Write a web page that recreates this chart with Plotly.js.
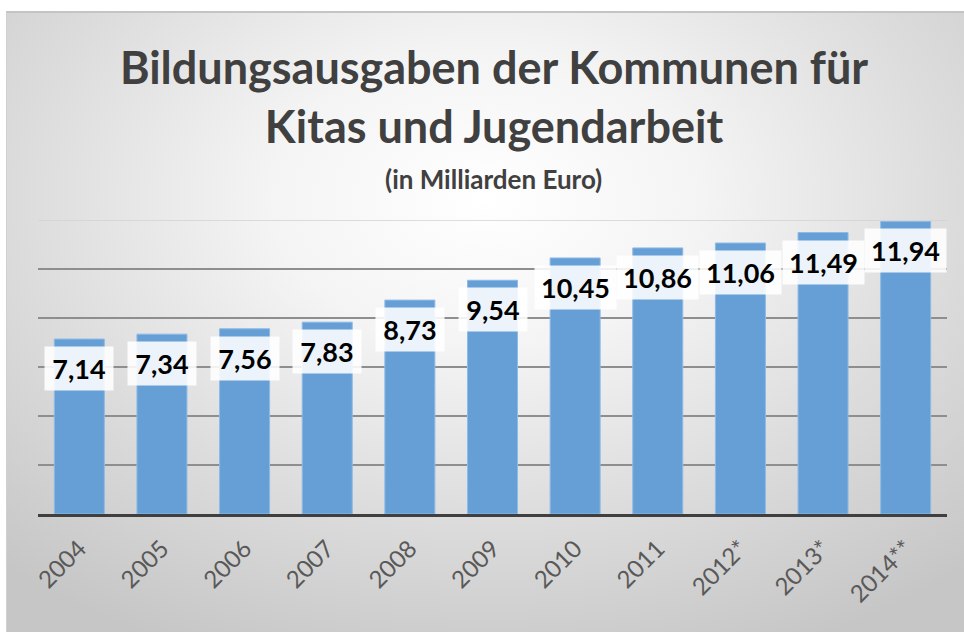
<!DOCTYPE html>
<html>
<head>
<meta charset="utf-8">
<script src="https://cdn.plot.ly/plotly-3.0.1.min.js"></script>
<style>
  html, body { margin: 0; padding: 0; background: #ffffff; }
  #wrap { position: relative; width: 964px; height: 632px; overflow: hidden; background: #ffffff; }
  #bg { position: absolute; left: 6px; top: 11px; right: 0; bottom: 0;
        border-top: 2px solid #c4c4c4; border-left: 1px solid #d0d0d0;
        background: radial-gradient(ellipse 75% 80% at 50% 30%, #ffffff 0%, #f4f4f4 30%, #dcdcdc 65%, #c6c6c6 100%); }
  #chart { position: absolute; left: 0; top: 0; width: 964px; height: 632px; }
</style>
</head>
<body>
<div id="wrap">
  <div id="bg"></div>
  <div id="chart"></div>
</div>
<script>
const categories = ["2004", "2005", "2006", "2007", "2008", "2009", "2010", "2011", "2012*", "2013*", "2014**"];
const values = [7.14, 7.34, 7.56, 7.83, 8.73, 9.54, 10.45, 10.86, 11.06, 11.49, 11.94];
const valueLabels = ["7,14", "7,34", "7,56", "7,83", "8,73", "9,54", "10,45", "10,86", "11,06", "11,49", "11,94"];
const titleText = "Bildungsausgaben der Kommunen für<br>Kitas und Jugendarbeit";
const subtitleText = "(in Milliarden Euro)";
const yMax = 12;

const trace = {
  type: "bar",
  x: categories,
  y: values,
  marker: { color: "#669fd6", line: { color: "#8dbae6", width: 1 } },
  hoverinfo: "skip"
};

const annotations = categories.map((c, i) => ({
  x: i, y: values[i], xref: "x", yref: "y",
  text: valueLabels[i],
  showarrow: false,
  yanchor: "top", xanchor: "center",
  yshift: -7,
  font: { family: "Lato, sans-serif", size: 27, color: "#000000", weight: "bold" },
  bgcolor: "rgba(255,255,255,0.88)",
  borderpad: 5,
  width: valueLabels[i].length * 13 + 6
}));

annotations.push({
  xref: "paper", yref: "paper", x: (494 - 38) / 909, y: (514 - 179) / 294,
  xanchor: "center", yanchor: "middle",
  text: subtitleText, showarrow: false,
  font: { family: "Lato, sans-serif", size: 26, color: "#404040", weight: "bold" }
});

const layout = {
  width: 964, height: 632,
  margin: { l: 38, r: 17, t: 220, b: 118 },
  paper_bgcolor: "rgba(0,0,0,0)",
  plot_bgcolor: "rgba(0,0,0,0)",
  showlegend: false,
  bargap: 0.395,
  title: {
    text: titleText,
    x: 494 / 964, xref: "container", xanchor: "center",
    y: 1 - 84 / 632, yref: "container", yanchor: "middle",
    font: { family: "Lato, sans-serif", size: 45, color: "#404040", weight: "bold" }
  },
  xaxis: {
    type: "category",
    range: [-0.5, categories.length - 0.5],
    tickangle: -45,
    ticklabelstandoff: 8,
    tickfont: { family: "Lato, sans-serif", size: 24, color: "#595959" },
    showline: true, linecolor: "#3f3f3f", linewidth: 3,
    ticks: "", showgrid: false, fixedrange: true
  },
  yaxis: {
    range: [0, yMax], dtick: 2,
    showticklabels: false, ticks: "",
    showgrid: true, gridcolor: "#8e8e8e", gridwidth: 1.5,
    zeroline: false, showline: false, fixedrange: true
  },
  shapes: [{
    type: "line", xref: "paper", yref: "y", x0: 0, x1: 1, y0: yMax, y1: yMax,
    line: { color: "#d2d2d2", width: 1.5 }, layer: "below"
  }],
  annotations: annotations
};

Plotly.newPlot("chart", [trace], layout, { displayModeBar: false, staticPlot: true });
</script>
</body>
</html>
